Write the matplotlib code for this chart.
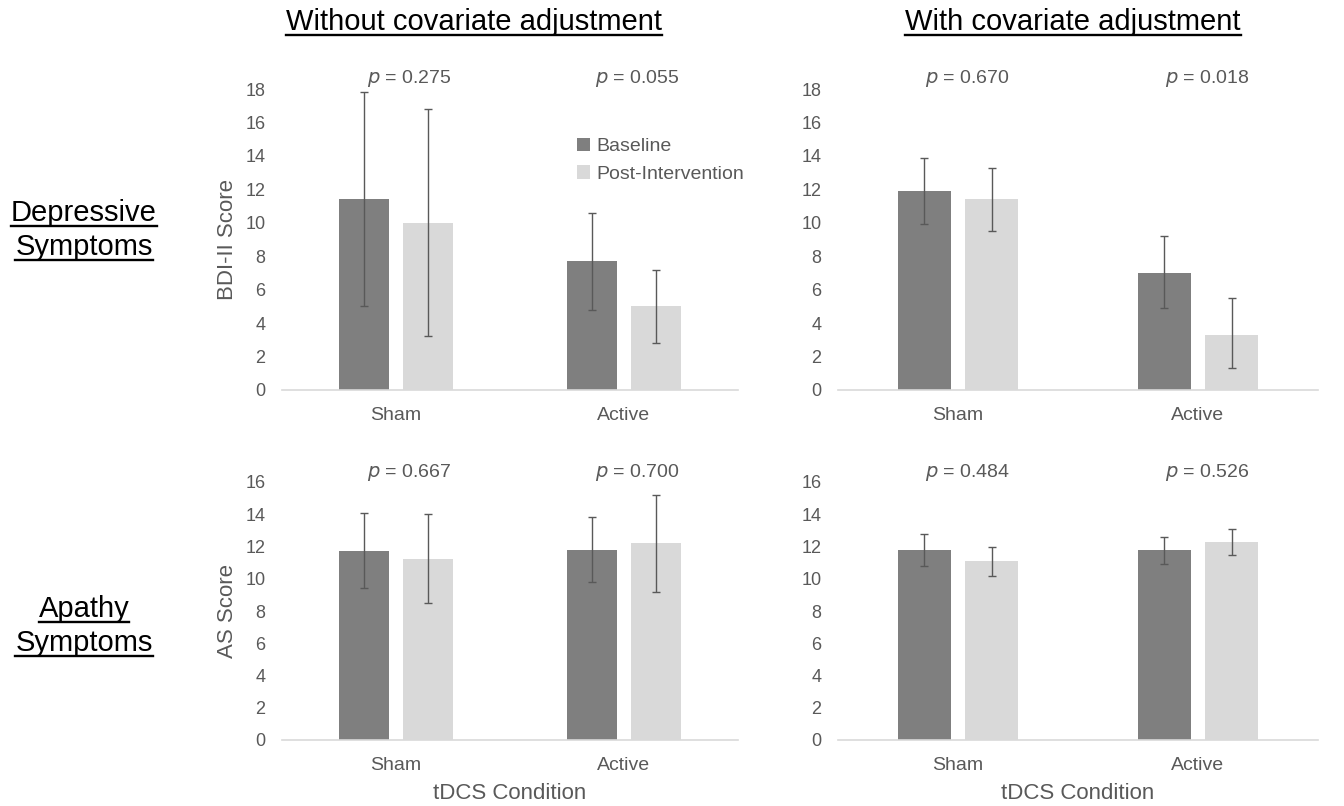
import numpy as np
import matplotlib
matplotlib.use("Agg")
import matplotlib.pyplot as plt
from matplotlib.lines import Line2D

plt.rcParams['font.family'] = ['Liberation Sans', 'DejaVu Sans']

conditions = ["Sham", "Active"]
series = ["Baseline", "Post-Intervention"]

# depressive symptoms (BDI-II), without / with covariate adjustment
bdi_raw_mean = [[11.4, 7.7], [10.0, 5.0]]
bdi_raw_hi = [[17.8, 10.6], [16.8, 7.2]]
bdi_raw_lo = [[5.0, 4.8], [3.2, 2.8]]
bdi_adj_mean = [[11.9, 7.0], [11.4, 3.3]]
bdi_adj_hi = [[13.9, 9.2], [13.3, 5.5]]
bdi_adj_lo = [[9.9, 4.9], [9.5, 1.3]]

# apathy symptoms (AS)
as_raw_mean = [[11.7, 11.8], [11.2, 12.2]]
as_raw_hi = [[14.1, 13.8], [14.0, 15.2]]
as_raw_lo = [[9.4, 9.8], [8.5, 9.2]]
as_adj_mean = [[11.8, 11.8], [11.1, 12.3]]
as_adj_hi = [[12.8, 12.6], [12.0, 13.1]]
as_adj_lo = [[10.8, 10.9], [10.2, 11.5]]

p_vals = [["0.275", "0.055"], ["0.670", "0.018"],
          ["0.667", "0.700"], ["0.484", "0.526"]]

col_titles = ["Without covariate adjustment", "With covariate adjustment"]
row_labels = [["Depressive", "Symptoms"], ["Apathy", "Symptoms"]]
y_labels = ["BDI-II Score", "AS Score"]
y_max = [18, 16]

colors = ["#7f7f7f", "#d9d9d9"]
gray = "#595959"

fig = plt.figure(figsize=(13.44, 8.06), dpi=100)

W, H = 1344.0, 806.0
boxes = [
    (282, 89, 738, 390), (838, 89, 1318, 390),
    (282, 482, 738, 740), (838, 482, 1318, 740),
]
panels = [
    (bdi_raw_mean, bdi_raw_hi, bdi_raw_lo),
    (bdi_adj_mean, bdi_adj_hi, bdi_adj_lo),
    (as_raw_mean, as_raw_hi, as_raw_lo),
    (as_adj_mean, as_adj_hi, as_adj_lo),
]
p_offset = [0.06, 0.04]

x = np.arange(len(conditions))
bw = 0.22
axes = []
for k, (box, (mean, hi, lo)) in enumerate(zip(boxes, panels)):
    x0, y0, x1, y1 = box
    ax = fig.add_axes([x0 / W, 1 - y1 / H, (x1 - x0) / W, (y1 - y0) / H])
    axes.append(ax)
    row, col = k // 2, k % 2
    for s in range(2):
        m = np.array(mean[s])
        err = [m - np.array(lo[s]), np.array(hi[s]) - m]
        pos = x + (s - 0.5) * 0.28
        ax.bar(pos, m, bw, color=colors[s], label=series[s], zorder=2)
        ax.errorbar(pos, m, yerr=err, fmt="none", ecolor=gray,
                    elinewidth=1.0, capsize=3, capthick=1.0, zorder=3)
    ax.set_xlim(-0.5, 1.5)
    ax.set_ylim(0, y_max[row])
    ax.set_yticks(np.arange(0, y_max[row] + 1, 2))
    ax.set_xticks(x)
    ax.set_xticklabels(conditions, fontsize=14, color=gray)
    ax.tick_params(axis="y", length=0, labelsize=13, labelcolor=gray, pad=12)
    ax.tick_params(axis="x", length=0, pad=12)
    for sp in ["top", "right", "left"]:
        ax.spines[sp].set_visible(False)
    ax.spines["bottom"].set_color("#d9d9d9")
    ax.spines["bottom"].set_linewidth(1.2)
    for i in range(2):
        ax.text(x[i] + p_offset[col], y_max[row] * 1.035,
                r"$\it{p}$ = " + p_vals[k][i], ha="center", va="center",
                fontsize=14, color=gray, clip_on=False)
    if col == 0:
        ax.set_ylabel(y_labels[row], fontsize=16, color=gray, labelpad=5)
    if row == 1:
        ax.set_xlabel("tDCS Condition", fontsize=16, color=gray, labelpad=7)

axes[0].legend(loc="upper left", bbox_to_anchor=(0.625, 0.87), frameon=False,
               fontsize=14, handlelength=0.7, handleheight=0.7,
               handletextpad=0.3, labelspacing=0.5, borderpad=0,
               labelcolor=gray)

# underlined headings
heads = []
heads.append(fig.text(474 / W, 1 - 22 / H, col_titles[0], ha="center",
                      va="center", fontsize=21))
heads.append(fig.text(1073 / W, 1 - 22 / H, col_titles[1], ha="center",
                      va="center", fontsize=21))
for r, yc in enumerate([213, 609]):
    for j, word in enumerate(row_labels[r]):
        heads.append(fig.text(84 / W, 1 - (yc + 34 * j) / H, word,
                              ha="center", va="center", fontsize=21))

fig.canvas.draw()
rend = fig.canvas.get_renderer()
for t in heads:
    bb = t.get_window_extent(rend)
    yl = (bb.y0 + 1) / H
    fig.add_artist(Line2D([bb.x0 / W, bb.x1 / W], [yl, yl],
                          color="black", lw=1.7))

fig.savefig("out.png", dpi=100)
